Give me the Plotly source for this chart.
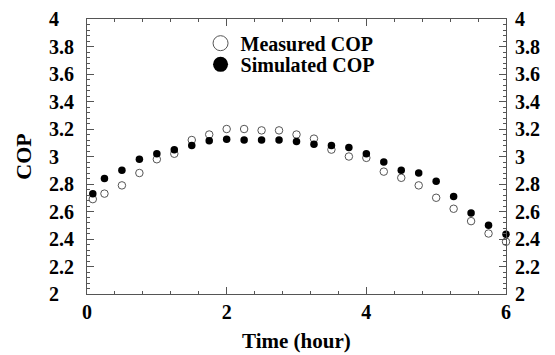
import plotly.graph_objects as go

time_h = [0.083, 0.25, 0.5, 0.75, 1.0, 1.25, 1.5, 1.75, 2.0, 2.25, 2.5, 2.75, 3.0,
          3.25, 3.5, 3.75, 4.0, 4.25, 4.5, 4.75, 5.0, 5.25, 5.5, 5.75, 6.0]
measured_cop = [2.69, 2.73, 2.79, 2.88, 2.98, 3.02, 3.12, 3.16, 3.20, 3.20, 3.19, 3.19, 3.16,
                3.13, 3.05, 3.00, 2.99, 2.89, 2.845, 2.79, 2.70, 2.62, 2.53, 2.44, 2.38]
simulated_cop = [2.73, 2.84, 2.90, 2.98, 3.02, 3.05, 3.08, 3.115, 3.125, 3.12, 3.12, 3.12, 3.11,
                 3.09, 3.08, 3.065, 3.02, 2.96, 2.90, 2.88, 2.82, 2.71, 2.59, 2.50, 2.435]

y_tick_vals = [2, 2.2, 2.4, 2.6, 2.8, 3, 3.2, 3.4, 3.6, 3.8, 4]
y_tick_text = ["2", "2.2", "2.4", "2.6", "2.8", "3", "3.2", "3.4", "3.6", "3.8", "4"]
x_tick_vals = [0, 2, 4, 6]
x_tick_text = ["0", "2", "4", "6"]

FONT = "Liberation Serif, Times New Roman, serif"
AX = "#555555"

fig = go.Figure()

fig.add_trace(go.Scatter(
    x=time_h, y=measured_cop, mode="markers", showlegend=False, cliponaxis=False,
    marker=dict(symbol="circle", size=7.5, color="white", line=dict(color="#555555", width=1))))
fig.add_trace(go.Scatter(
    x=time_h, y=simulated_cop, mode="markers", showlegend=False, cliponaxis=False,
    marker=dict(symbol="circle", size=7.5, color="black", line=dict(color="black", width=0))))
# invisible trace to carry the right-hand axis
fig.add_trace(go.Scatter(
    x=time_h, y=simulated_cop, mode="markers", yaxis="y2", showlegend=False,
    hoverinfo="skip", marker=dict(opacity=0)))

# legend entries (larger symbols)
fig.add_trace(go.Scatter(
    x=[None], y=[None], mode="markers", name="Measured COP", legend="legend",
    marker=dict(symbol="circle", size=15, color="white", line=dict(color="#555555", width=1))))
fig.add_trace(go.Scatter(
    x=[None], y=[None], mode="markers", name="Simulated COP", legend="legend2",
    marker=dict(symbol="circle", size=15, color="black", line=dict(color="black", width=0))))

for v, t in zip(y_tick_vals, y_tick_text):
    fig.add_annotation(x=-0.095, xref="paper", y=v, yref="y", text=t, showarrow=False,
                       xanchor="left", yanchor="middle",
                       font=dict(family=FONT, size=20, color="black", weight="bold"))

fig.add_annotation(x=0.5, xref="paper", y=-0.22, yref="paper", text="Time (hour)",
                   showarrow=False, xanchor="center", yanchor="bottom",
                   font=dict(family=FONT, size=21, color="black", weight="bold"))

fig.update_layout(
    width=555, height=355,
    margin=dict(l=87, r=49, t=19, b=61),
    paper_bgcolor="white", plot_bgcolor="white",
    font=dict(family=FONT, color="black", weight="bold"),
    xaxis=dict(range=[0, 6], tickvals=x_tick_vals, ticktext=x_tick_text, automargin=False,
               ticks="inside", ticklen=7, tickcolor=AX, showline=True, linecolor=AX,
               linewidth=1, mirror="ticks", showgrid=False, zeroline=False,
               tickfont=dict(family=FONT, size=20, color="black", weight="bold"),
               minor=dict(dtick=0.4, tick0=0, ticks="inside", ticklen=3, tickcolor=AX)),
    yaxis=dict(range=[2, 4], tickvals=y_tick_vals, showticklabels=False, automargin=False,
               ticks="inside", ticklen=7, tickcolor=AX, showline=True, linecolor=AX,
               linewidth=1, mirror="ticks", showgrid=False, zeroline=False,
               minor=dict(dtick=0.04, tick0=2, ticks="inside", ticklen=3, tickcolor=AX),
               title=dict(text="COP", font=dict(family=FONT, size=22, weight="bold"),
                          standoff=48)),
    yaxis2=dict(range=[2, 4], tickvals=y_tick_vals, ticktext=y_tick_text, overlaying="y",
                side="right", ticks="", showline=False, showgrid=False, zeroline=False,
                ticklabelstandoff=8, automargin=False,
                tickfont=dict(family=FONT, size=20, color="black", weight="bold")),
    legend=dict(x=0.271, y=0.983, xanchor="left", yanchor="top", bgcolor="rgba(0,0,0,0)",
                font=dict(family=FONT, size=20, color="black", weight="bold")),
    legend2=dict(x=0.271, y=0.906, xanchor="left", yanchor="top", bgcolor="rgba(0,0,0,0)",
                 font=dict(family=FONT, size=20, color="black", weight="bold")),
)

fig.write_html("out.html")
